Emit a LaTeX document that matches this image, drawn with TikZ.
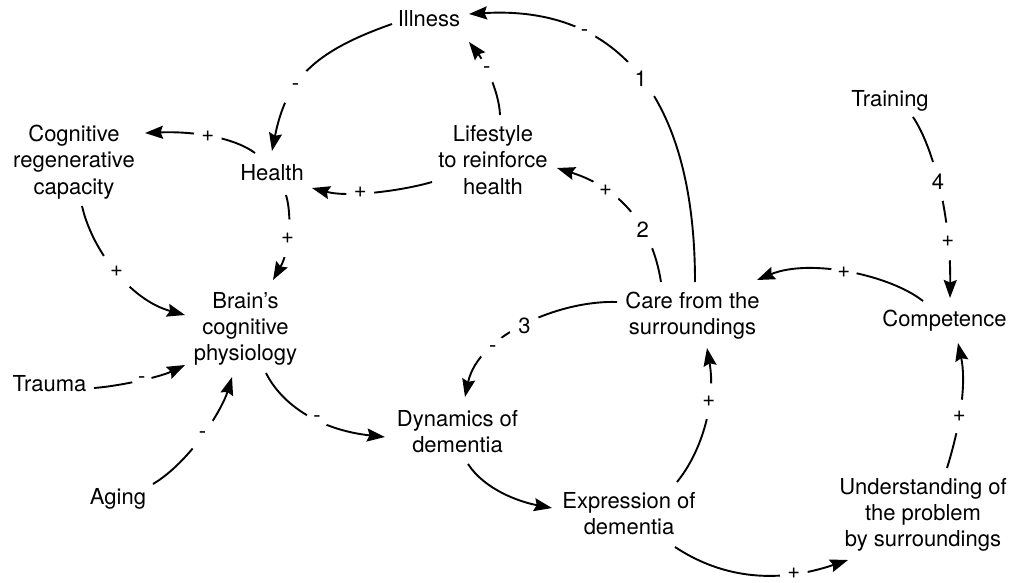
\documentclass[tikz,border=0pt]{standalone}
\usepackage{fontspec}
\setmainfont{TeX Gyre Heros}
\usetikzlibrary{arrows.meta}
\begin{document}
\begin{tikzpicture}[x=1pt,y=-1pt,
  var/.style={align=center, inner sep=0pt, font=\fontsize{22}{26.2}\selectfont},
  link/.style={line width=1.9pt, -{Stealth[length=18pt,width=13pt,inset=2.5pt]}},
  pol/.style={circle, fill=white, inner sep=0pt, minimum size=#1pt,
              font=\fontsize{22}{26.2}\selectfont},
]
\useasboundingbox (0,0) rectangle (1012,582);

% variables
\node[var] (ill)    at (429,19)    {Illness};
\node[var] (cog)    at (74,162)    {Cognitive\\regenerative\\capacity};
\node[var] (hea)    at (272,173)   {Health};
\node[var] (life)   at (493,160)   {Lifestyle\\to reinforce\\health};
\node[var] (train)  at (890,101)   {Training};
\node[var] (brain)  at (245.5,329) {Brain’s\\cognitive\\physiology};
\node[var] (trauma) at (49.5,384)  {Trauma};
\node[var] (aging)  at (118,498.5) {Aging};
\node[var] (care)   at (692.5,316) {Care from the\\surroundings};
\node[var] (comp)   at (944.5,321) {Competence};
\node[var] (dyn)    at (457.5,431.5) {Dynamics of\\dementia};
\node[var] (expr)   at (629,514)   {Expression of\\dementia};
\node[var] (und)    at (923,515)   {Understanding of\\the problem\\by surroundings};

% causal links
\draw[link] ([shift={(-37,5)}]ill.center) .. controls +(-80,28) and +(14,-70) ..
  ([shift={(0,-22)}]hea.center) node[pol=38,pos=0.62]{-};
\draw[link] ([shift={(2.5,-34)}]care.center) .. controls +(0,-182) and +(151,-9) ..
  ([shift={(40,-5)}]ill.center) node[pol=43,pos=0.49]{1} node[pol=23,pos=0.7]{-};
\draw[link] ([shift={(7,-45)}]life.center) .. controls +(-1,-25) and +(14,18) ..
  ([shift={(40,23)}]ill.center) node[pol=26,pos=0.57]{-};
\draw[link] ([shift={(-61,22)}]life.center) .. controls +(-27,8) and +(38,10) ..
  ([shift={(40,15)}]hea.center) node[pol=28,pos=0.62]{+};
\draw[link] ([shift={(-17,-20)}]hea.center) .. controls +(-20,-15) and +(50,-2) ..
  ([shift={(71,-29)}]cog.center) node[pol=28,pos=0.53]{+};
\draw[link] ([shift={(14,22)}]hea.center) .. controls +(6,20) and +(17,-30) ..
  ([shift={(27.5,-49)}]brain.center) node[pol=38,pos=0.55]{+};
\draw[link] ([shift={(8,44)}]cog.center) .. controls +(10,44) and +(-55,-15) ..
  ([shift={(-60.5,-14)}]brain.center) node[pol=40,pos=0.5]{+};
\draw[link] ([shift={(44.5,4)}]trauma.center) .. controls +(26,-2) and +(-25,12) ..
  ([shift={(-60.5,36)}]brain.center) node[pol=20,pos=0.52]{-};
\draw[link] ([shift={(35,-14.5)}]aging.center) .. controls +(37,-22) and +(-10,33) ..
  ([shift={(-13.5,48)}]brain.center) node[pol=34,pos=0.5]{-};
\draw[link] ([shift={(20.5,44)}]brain.center) .. controls +(16,32) and +(-65,-7) ..
  ([shift={(-72.5,5.5)}]dyn.center) node[pol=22,pos=0.58]{-};
\draw[link] ([shift={(-31.5,-34)}]care.center) .. controls +(-9,-57) and +(63,20) ..
  ([shift={(64,8)}]life.center) node[pol=42,pos=0.35]{2} node[pol=30,pos=0.7]{+};
\draw[link] ([shift={(-75.5,-14)}]care.center) .. controls +(-57,-2) and +(13,-62) ..
  ([shift={(7.5,-34.5)}]dyn.center) node[pol=32,pos=0.5]{3} node[pol=28,pos=0.7]{-};
\draw[link] ([shift={(10.5,32.5)}]dyn.center) .. controls +(17,26) and +(-32,-6) ..
  ([shift={(-77,-6)}]expr.center);
\draw[link] ([shift={(48,-32)}]expr.center) .. controls +(26,-32) and +(9,52) ..
  ([shift={(14.5,32)}]care.center) node[pol=36,pos=0.65]{+};
\draw[link] ([shift={(46,33)}]expr.center) .. controls +(50,33) and +(-68,23) ..
  ([shift={(-75,45)}]und.center) node[pol=28,pos=0.72]{+};
\draw[link] ([shift={(24,-47)}]und.center) .. controls +(15,-48) and +(8,37) ..
  ([shift={(13.5,22)}]comp.center) node[pol=34,pos=0.38]{+};
\draw[link] ([shift={(-21.5,-20)}]comp.center) .. controls +(-33,-26) and +(53,-22) ..
  ([shift={(64.5,-36)}]care.center) node[pol=26,pos=0.52]{+};
\draw[link] ([shift={(23,16)}]train.center) .. controls +(22,33) and +(1,-78) ..
  ([shift={(5.5,-23)}]comp.center) node[pol=40,pos=0.45]{4} node[pol=38,pos=0.75]{+};
\end{tikzpicture}
\end{document}
